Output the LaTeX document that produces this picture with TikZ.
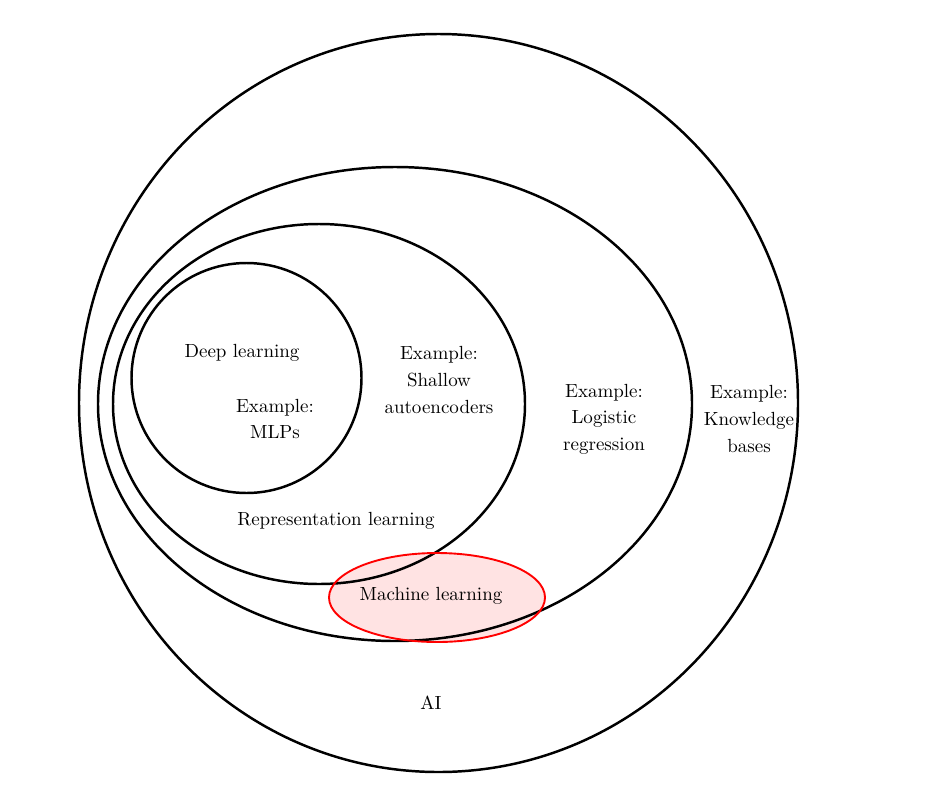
\documentclass[tikz,border=0pt]{standalone}
\usepackage{tikz}
\usetikzlibrary{shapes}
\tikzset{
    region/.style={draw=black, line width=1.3pt},
    mlfill/.style={fill=red!11},
    mlregion/.style={draw=red, line width=1pt},
    example/.style={align=center, font=\fontsize{10}{14}\selectfont},
}
\begin{document}
\begin{tikzpicture}[x=0.526pt, y=-0.526pt]
	\useasboundingbox (0,0) rectangle (927,800);
	\fill[mlfill] (437,597.5) ellipse (108 and 44.5);
	\draw[region] (438.5,403) ellipse (359.5 and 369);
	\draw[region] (395,404) ellipse (297 and 237);
	\draw[region] (319,404) ellipse (206 and 180);
	\draw[region] (246.5,378) circle (115);
	\draw[mlregion] (437,597.5) ellipse (108 and 44.5);
	\node[example] (dl) at (242,353) {Deep learning};
	\node[example] (mlp) at (275,419) {Example:\\MLPs};
	\node[example] (shallow) at (439,380) {Example:\\Shallow\\autoencoders};
	\node[example] (logistic) at (604,419) {Example:\\Logistic\\regression};
	\node[example] (knowledge) at (749,419) {Example:\\Knowledge\\bases};
	\node[example] (rep) at (336,521) {Representation learning};
	\node[example] (ml) at (431,596) {Machine learning};
	\node[example] (ai) at (431,703) {AI};
\end{tikzpicture}
\end{document}
